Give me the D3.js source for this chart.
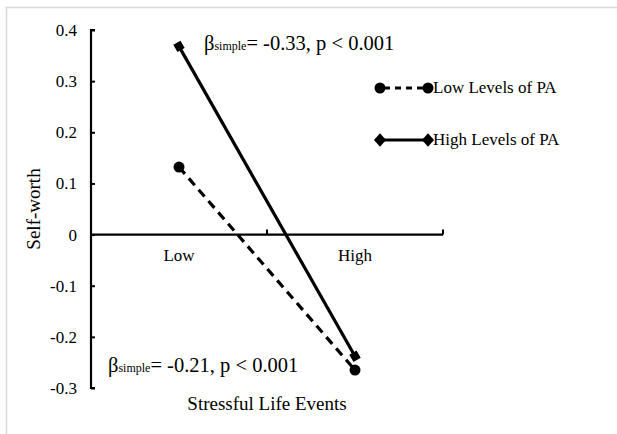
<!DOCTYPE html>
<html><head><meta charset="utf-8">
<script src="https://cdn.jsdelivr.net/npm/d3@7"></script>
<style>body{margin:0;background:#fff}svg{display:block}text{font-family:"Liberation Serif","Times New Roman",serif;fill:#000}</style>
</head><body><svg id="c" width="617" height="434"></svg>
<script>
const categories = ["Low", "High"];
const yTicks = [0.4, 0.3, 0.2, 0.1, 0, -0.1, -0.2, -0.3];
const lowPA = [0.132, -0.265];
const highPA = [0.368, -0.238];
const seriesNames = ["Low Levels of PA", "High Levels of PA"];
const annotations = ["-0.33, p < 0.001", "-0.21, p < 0.001"];

const SERIF = "Liberation Serif";
const svg = d3.select("#c");
svg.append("rect").attr("x",6.5).attr("y",7.5).attr("width",620).attr("height",440)
  .attr("fill","#fff").attr("stroke","#d9d9d9").attr("stroke-width",1.5);

const x = d3.scaleBand().domain(categories).range([91, 443]);
const y = d3.scaleLinear().domain([-0.3, 0.4]).range([388, 30]);

// Y axis
const ya = svg.append("g").attr("transform","translate(91,0)")
  .call(d3.axisRight(y).tickValues(yTicks).tickSize(4)
    .tickFormat(d => d === 0 ? "0" : d3.format(".1f")(d).replace("\u2212","-")));
ya.attr("font-family", SERIF).attr("font-size", 17);
ya.select(".domain").attr("d", `M4,${y(0.4)}H0V${y(-0.3)}H4`).attr("stroke-width",2.2);
ya.selectAll(".tick line").attr("stroke-width",2);
ya.selectAll(".tick text").attr("x",-14).attr("text-anchor","end");

// X axis at zero
const xa = svg.append("g").attr("transform",`translate(0,${y(0)})`);
xa.append("line").attr("x1",91).attr("x2",443).attr("stroke","#000").attr("stroke-width",2.2);
[x("High"), 443].forEach(px => xa.append("line").attr("x1",px).attr("x2",px).attr("y1",0).attr("y2",-5).attr("stroke","#000").attr("stroke-width",2));
categories.forEach(c => xa.append("text").attr("x", x(c)+x.bandwidth()/2).attr("y",26)
  .attr("text-anchor","middle").attr("font-size",17).text(c));

const cx = c => x(c) + x.bandwidth()/2;
const line = d3.line().x((d,i)=>cx(categories[i])).y(d=>y(d));

// Low PA dashed
svg.append("path").datum(lowPA).attr("d",line).attr("fill","none").attr("stroke","#000")
  .attr("stroke-width",3.2).attr("stroke-dasharray","9,6");
lowPA.forEach((v,i)=>svg.append("circle").attr("cx",cx(categories[i])).attr("cy",y(v)).attr("r",5.5));
// High PA solid
svg.append("path").datum(highPA).attr("d",line).attr("fill","none").attr("stroke","#000").attr("stroke-width",3.2);
const sq = d3.symbol().type(d3.symbolSquare).size(70);
highPA.forEach((v,i)=>svg.append("path").attr("d",sq).attr("transform",`translate(${cx(categories[i])},${y(v)}) rotate(-30)`));

// Legend
const lg = [{n:seriesNames[0],y:88,dash:"9,6",m:"c"},{n:seriesNames[1],y:140,dash:null,m:"d"}];
lg.forEach(l=>{
  const ln = svg.append("line").attr("x1",380).attr("x2",428).attr("y1",l.y).attr("y2",l.y).attr("stroke","#000").attr("stroke-width",3);
  if(l.dash) ln.attr("stroke-dasharray","6,5").attr("stroke-dashoffset",-4);
  [380,428].forEach(px=>{
    if(l.m==="c") svg.append("circle").attr("cx",px).attr("cy",l.y).attr("r",5.5);
    else svg.append("path").attr("d",d3.symbol().type(d3.symbolDiamond).size(80)).attr("transform",`translate(${px},${l.y}) scale(1.25,0.8)`);
  });
  svg.append("text").attr("x",433).attr("y",l.y+5).attr("font-size",17).text(l.n);
});

// Annotations
function beta(xp, yp, val){
  const t = svg.append("text").attr("x",xp).attr("y",yp).attr("font-size",20.5);
  t.append("tspan").text("β");
  t.append("tspan").attr("font-size",12).text("simple");
  t.append("tspan").text("= " + val);
}
beta(204, 50, annotations[0]);
beta(108, 372, annotations[1]);

// Axis titles
svg.append("text").attr("x",267).attr("y",410).attr("text-anchor","middle").attr("font-size",19).text("Stressful Life Events");
svg.append("text").attr("transform","translate(40,209) rotate(-90)").attr("text-anchor","middle").attr("font-size",19).text("Self-worth");
</script></body></html>
